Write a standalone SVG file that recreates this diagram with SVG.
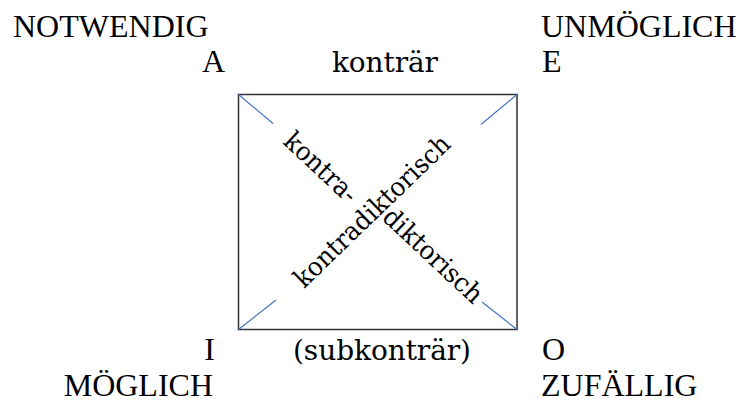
<svg xmlns="http://www.w3.org/2000/svg" width="746" height="403" viewBox="0 0 746 403">
<style>
.cap{font-family:"Liberation Serif","Times New Roman",serif;font-size:32px;fill:#000}
.geo{font-family:"DejaVu Serif",serif;font-size:28px;fill:#000}
.rot{font-family:"DejaVu Serif",serif;font-size:26px;fill:#000}
.edge{stroke:#333;stroke-width:1.5;fill:none}
.diag{stroke:#4472C4;stroke-width:1.2;fill:none}
</style>
<rect width="746" height="403" fill="#fff"/>
<g id="connectors">
<rect class="edge" x="238.5" y="94.5" width="278.5" height="235"/>
<line class="diag" x1="238.5" y1="94.5" x2="273" y2="123.5"/>
<line class="diag" x1="517" y1="94.5" x2="481" y2="124.5"/>
<line class="diag" x1="238.5" y1="329.5" x2="276" y2="300"/>
<line class="diag" x1="517" y1="329.5" x2="482" y2="302"/>
</g>
<g id="node-A">
<text class="cap" x="13" y="37">NOTWENDIG</text>
<text class="cap" x="225" y="72" text-anchor="end">A</text>
</g>
<g id="node-E">
<text class="cap" x="541" y="37">UNMÖGLICH</text>
<text class="cap" x="542" y="72">E</text>
</g>
<g id="node-I">
<text class="cap" x="215" y="360" text-anchor="end">I</text>
<text class="cap" x="213" y="396" text-anchor="end">MÖGLICH</text>
</g>
<g id="node-O">
<text class="cap" x="542" y="360">O</text>
<text class="cap" x="541" y="396">ZUFÄLLIG</text>
</g>
<g id="label-kontraer">
<text class="geo" x="332" y="72" textLength="106">konträr</text>
</g>
<g id="label-subkontraer">
<text class="geo" x="293" y="360" textLength="178">(subkonträr)</text>
</g>
<g id="label-kontradiktorisch-1">
<text class="rot" transform="translate(282,143) rotate(43)" textLength="90" lengthAdjust="spacingAndGlyphs">kontra-</text>
<text class="rot" transform="translate(381,219) rotate(43)" textLength="126" lengthAdjust="spacingAndGlyphs">diktorisch</text>
</g>
<g id="label-kontradiktorisch-2">
<text class="rot" transform="translate(304,289) rotate(-44)" textLength="206" lengthAdjust="spacingAndGlyphs">kontradiktorisch</text>
</g>
</svg>
